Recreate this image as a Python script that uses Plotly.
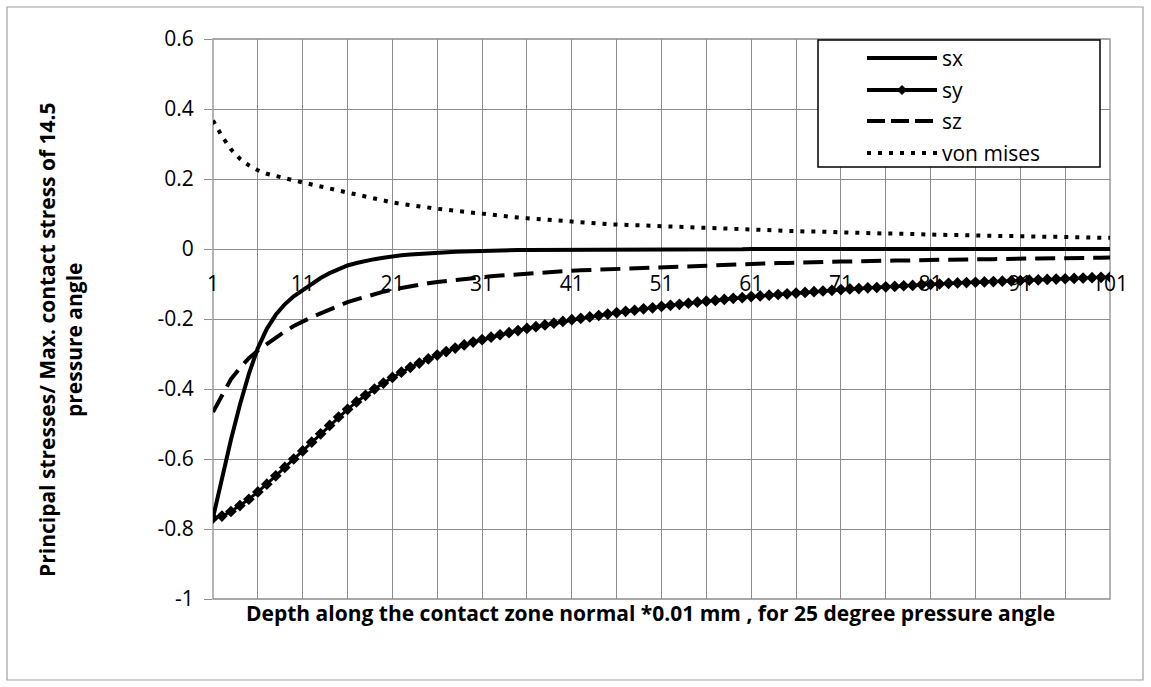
import plotly.graph_objects as go

depth = list(range(1, 102))

sx = [-0.768, -0.655, -0.545, -0.445, -0.357, -0.283, -0.228, -0.188, -0.158, -0.135,
      -0.117, -0.099, -0.083, -0.069, -0.057, -0.047, -0.040, -0.034, -0.029, -0.025,
      -0.021, -0.018, -0.016, -0.014, -0.012, -0.011, -0.009, -0.008, -0.007, -0.006,
      -0.005, -0.005, -0.004, -0.004, -0.003, -0.003, -0.003, -0.002, -0.002, -0.002,
      -0.002] + [-0.001] * 19 + [0.0] * 41

sy = [-0.769, -0.763, -0.750, -0.733, -0.715, -0.694, -0.672, -0.648, -0.624, -0.600,
      -0.577, -0.552, -0.528, -0.504, -0.480, -0.458, -0.437, -0.418, -0.400, -0.383,
      -0.367, -0.352, -0.338, -0.326, -0.314, -0.303, -0.293, -0.283, -0.274, -0.266,
      -0.259, -0.252, -0.245, -0.239, -0.233, -0.227, -0.222, -0.217, -0.212, -0.207,
      -0.202, -0.198, -0.194, -0.190, -0.186, -0.182, -0.178, -0.175, -0.171, -0.168,
      -0.164, -0.161, -0.158, -0.155, -0.152, -0.149, -0.147, -0.144, -0.141, -0.139,
      -0.136, -0.134, -0.132, -0.130, -0.128, -0.126, -0.124, -0.122, -0.120, -0.118,
      -0.116, -0.114, -0.113, -0.111, -0.110, -0.108, -0.107, -0.105, -0.104, -0.102,
      -0.101, -0.100, -0.098, -0.097, -0.096, -0.095, -0.094, -0.093, -0.092, -0.091,
      -0.090, -0.089, -0.088, -0.087, -0.086, -0.085, -0.084, -0.083, -0.082, -0.081,
      -0.080]

sz = [-0.466, -0.416, -0.372, -0.340, -0.312, -0.290, -0.271, -0.253, -0.236, -0.220,
      -0.206, -0.195, -0.184, -0.173, -0.163, -0.152, -0.144, -0.136, -0.128, -0.122,
      -0.116, -0.111, -0.106, -0.102, -0.098, -0.094, -0.091, -0.088, -0.085, -0.083,
      -0.080, -0.078, -0.076, -0.074, -0.072, -0.070, -0.068, -0.067, -0.065, -0.064,
      -0.062, -0.061, -0.060, -0.058, -0.057, -0.056, -0.055, -0.054, -0.053, -0.052,
      -0.051, -0.050, -0.049, -0.048, -0.047, -0.046, -0.046, -0.045, -0.044, -0.043,
      -0.042, -0.042, -0.041, -0.040, -0.040, -0.039, -0.039, -0.038, -0.038, -0.037,
      -0.036, -0.036, -0.035, -0.035, -0.034, -0.034, -0.033, -0.033, -0.032, -0.032,
      -0.031, -0.031, -0.031, -0.030, -0.030, -0.029, -0.029, -0.029, -0.028, -0.028,
      -0.028, -0.027, -0.027, -0.027, -0.026, -0.026, -0.026, -0.025, -0.025, -0.025,
      -0.024]

von_mises = [0.367, 0.322, 0.285, 0.258, 0.239, 0.225, 0.215, 0.208, 0.202, 0.196,
             0.190, 0.185, 0.179, 0.173, 0.167, 0.161, 0.155, 0.149, 0.143, 0.138,
             0.133, 0.129, 0.125, 0.121, 0.118, 0.115, 0.112, 0.109, 0.106, 0.103,
             0.100, 0.097, 0.095, 0.092, 0.090, 0.088, 0.086, 0.084, 0.082, 0.079,
             0.077, 0.076, 0.074, 0.073, 0.071, 0.070, 0.069, 0.067, 0.066, 0.065,
             0.064, 0.063, 0.062, 0.061, 0.060, 0.059, 0.059, 0.058, 0.057, 0.056,
             0.055, 0.054, 0.054, 0.053, 0.052, 0.051, 0.050, 0.050, 0.049, 0.048,
             0.047, 0.047, 0.046, 0.046, 0.045, 0.044, 0.044, 0.043, 0.043, 0.042,
             0.041, 0.041, 0.040, 0.040, 0.039, 0.039, 0.038, 0.038, 0.037, 0.037,
             0.036, 0.036, 0.035, 0.035, 0.035, 0.034, 0.034, 0.033, 0.033, 0.032,
             0.032]

x_tick_vals = [1, 11, 21, 31, 41, 51, 61, 71, 81, 91, 101]
x_minor_vals = [6, 16, 26, 36, 46, 56, 66, 76, 86, 96]
y_tick_vals = [-1, -0.8, -0.6, -0.4, -0.2, 0, 0.2, 0.4, 0.6]
y_tick_text = ["-1", "-0.8", "-0.6", "-0.4", "-0.2", "0", "0.2", "0.4", "0.6"]

legend_names = ["sx", "sy", "sz", "von mises"]

W, H = 1151, 687
ML, MR, MT, MB = 213, 41, 39, 88
PW, PH = W - ML - MR, H - MT - MB
GRID = "#8c8c8c"
FONT = "Open Sans"


def px(x):
    return (x - ML) / PW


def py(y):
    return (H - MB - y) / PH


fig = go.Figure()
fig.add_trace(go.Scatter(x=depth, y=sx, mode="lines", name="sx",
                         line=dict(color="black", width=4), showlegend=False))
fig.add_trace(go.Scatter(x=depth, y=sy, mode="lines+markers", name="sy",
                         line=dict(color="black", width=3),
                         marker=dict(symbol="diamond", size=9, color="black"),
                         showlegend=False))
fig.add_trace(go.Scatter(x=depth, y=sz, mode="lines", name="sz",
                         line=dict(color="black", width=4, dash="20px,9px"),
                         showlegend=False))
fig.add_trace(go.Scatter(x=depth, y=von_mises, mode="lines", name="von mises",
                         line=dict(color="black", width=4, dash="4px,7px"),
                         showlegend=False))

shapes = []
# outer chart border
shapes.append(dict(type="rect", xref="paper", yref="paper",
                   x0=px(7), x1=px(1143), y0=py(680), y1=py(7),
                   line=dict(color="#a0a0a0", width=1.2), layer="below"))
# plot border
shapes.append(dict(type="rect", xref="paper", yref="paper",
                   x0=0, x1=1, y0=0, y1=1,
                   line=dict(color=GRID, width=1.3), layer="below"))

# manual legend
lx0, lx1, ly0, ly1 = 818, 1100, 40, 167
shapes.append(dict(type="rect", xref="paper", yref="paper",
                   x0=px(lx0), x1=px(lx1), y0=py(ly1), y1=py(ly0),
                   line=dict(color="black", width=1.5), fillcolor="white"))
rows = [58, 90, 121, 153]
dashes = ["solid", "solid", "18px,6px", "4px,7px"]
for r, d in zip(rows, dashes):
    shapes.append(dict(type="line", xref="paper", yref="paper",
                       x0=px(867), x1=px(937), y0=py(r), y1=py(r),
                       line=dict(color="black", width=4, dash=d)))
cx, cy = 902, rows[1]
shapes.append(dict(type="path", xref="paper", yref="paper",
                   path=f"M{px(cx-4.5)},{py(cy)} L{px(cx)},{py(cy-4.5)} L{px(cx+4.5)},{py(cy)} L{px(cx)},{py(cy+4.5)} Z",
                   fillcolor="black", line=dict(color="black", width=1)))

annotations = []
for r, name in zip(rows, legend_names):
    annotations.append(dict(x=px(940), y=py(r), xref="paper", yref="paper",
                            text=name, showarrow=False, xanchor="left", yanchor="middle",
                            font=dict(family=FONT, size=21, color="black")))

annotations.append(dict(x=px(650), y=py(613), xref="paper", yref="paper",
                        text="<b>Depth along the contact zone normal *0.01 mm , for 25 degree pressure angle</b>",
                        showarrow=False, xanchor="center", yanchor="middle",
                        font=dict(family=FONT, size=21, color="black")))
annotations.append(dict(x=px(60), y=py(340), xref="paper", yref="paper",
                        text="<b>Principal stresses/ Max. contact stress of 14.5<br>pressure angle</b>",
                        showarrow=False, xanchor="center", yanchor="middle", textangle=-90,
                        font=dict(family=FONT, size=21, color="black")))

fig.update_layout(
    width=W, height=H,
    margin=dict(l=ML, r=MR, t=MT, b=MB),
    paper_bgcolor="white", plot_bgcolor="white",
    showlegend=False,
    shapes=shapes, annotations=annotations,
    xaxis=dict(range=[1, 101], tickvals=x_tick_vals, ticktext=[str(v) for v in x_tick_vals],
               showgrid=True, gridcolor=GRID, gridwidth=1.3,
               minor=dict(tickvals=x_minor_vals, showgrid=True, gridcolor=GRID, gridwidth=1.3),
               zeroline=False, showline=False, ticks="",
               anchor="free", position=0.625, ticklabelstandoff=20,
               layer="below traces",
               tickfont=dict(family=FONT, size=21, color="black")),
    yaxis=dict(range=[-1, 0.6], tickvals=y_tick_vals, ticktext=y_tick_text,
               showgrid=True, gridcolor=GRID, gridwidth=1.3,
               zeroline=True, zerolinecolor=GRID, zerolinewidth=1.3,
               showline=False, ticks="outside", ticklen=8, tickcolor=GRID, tickwidth=1.3,
               ticklabelstandoff=6,
               tickfont=dict(family=FONT, size=21, color="black")),
)

fig.write_html("out.html")
